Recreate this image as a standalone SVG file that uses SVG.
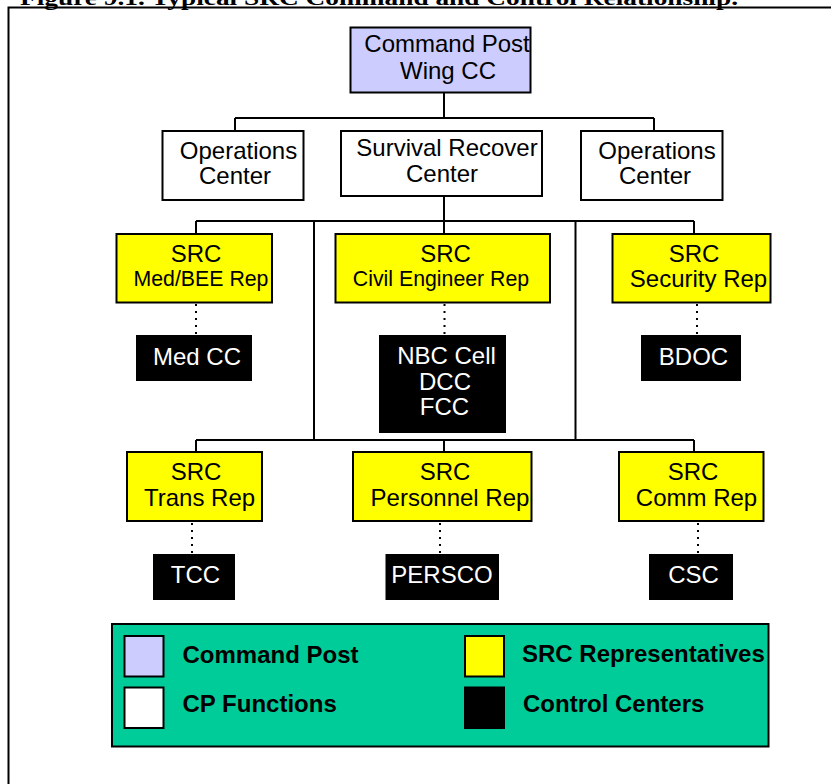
<svg xmlns="http://www.w3.org/2000/svg" width="831" height="784" viewBox="0 0 831 784">
<style>
  .t{font-family:"Liberation Sans",Arial,sans-serif;font-size:24px;fill:#000;text-anchor:middle}
  .w{fill:#fff}
  .sm{font-size:21.3px}
  .lg{font-family:"Liberation Sans",Arial,sans-serif;font-size:24px;font-weight:bold;fill:#000}
  .box{stroke:#000;stroke-width:2}
  .cp{fill:#ccccff}
  .fn{fill:#ffffff}
  .rep{fill:#ffff00}
  .cc{fill:#000000}
  .ln{stroke:#000;stroke-width:2;fill:none}
  .dot{stroke:#000;stroke-width:2;fill:none;stroke-dasharray:2 5}
</style>
<rect x="0" y="0" width="831" height="784" fill="#fff"/>
<text x="20" y="4.5" font-family="'Liberation Serif','Times New Roman',serif" font-size="21" font-weight="bold" textLength="718" lengthAdjust="spacingAndGlyphs">Figure 9.1.  Typical SRC Command and Control Relationship.</text>
<rect x="8.5" y="7.5" width="840" height="800" fill="none" stroke="#000" stroke-width="2"/>

<g id="connectors">
  <path class="ln" d="M444,92 V118 M235,118 H654 M235,118 V131 M654,118 V131"/>
  <path class="ln" d="M444,196 V221 M196,221 H694 M196,221 V234 M444,221 V234 M694,221 V234"/>
  <path class="ln" d="M314,221 V440 M575.5,221 V440 M196,440 H694 M196,440 V452 M444,440 V452 M694,440 V452"/>
  <path class="dot" d="M196,304 V336 M444.5,304 V336 M697,304 V336"/>
  <path class="dot" d="M192,523 V555 M440,523 V555 M698,523 V555"/>
</g>

<g id="command-post">
  <rect class="box cp" x="350.5" y="27.5" width="180" height="65"/>
  <text class="t" x="447" y="52">Command Post</text>
  <text class="t" x="448" y="79">Wing CC</text>
</g>

<g id="ops-left">
  <rect class="box fn" x="162.5" y="131" width="141" height="69"/>
  <text class="t" x="238.5" y="158.5">Operations</text>
  <text class="t" x="235" y="183.5">Center</text>
</g>
<g id="src-center">
  <rect class="box fn" x="341" y="131" width="201" height="65"/>
  <text class="t" x="447" y="156">Survival Recover</text>
  <text class="t" x="442" y="181.5">Center</text>
</g>
<g id="ops-right">
  <rect class="box fn" x="581" y="131" width="141.5" height="69"/>
  <text class="t" x="657" y="158.5">Operations</text>
  <text class="t" x="655" y="183.5">Center</text>
</g>

<g id="rep-med">
  <rect class="box rep" x="116.5" y="234" width="155.5" height="68.5"/>
  <text class="t" x="196" y="262">SRC</text>
  <text class="t sm" x="201" y="285.5">Med/BEE Rep</text>
</g>
<g id="rep-ce">
  <rect class="box rep" x="335.5" y="234" width="214.5" height="68.5"/>
  <text class="t" x="445.5" y="262">SRC</text>
  <text class="t sm" x="441" y="285.5">Civil Engineer Rep</text>
</g>
<g id="rep-sec">
  <rect class="box rep" x="612.5" y="234" width="158" height="68.5"/>
  <text class="t" x="694" y="262">SRC</text>
  <text class="t" x="698.5" y="286.5">Security Rep</text>
</g>

<g id="cc-med">
  <rect class="box cc" x="137" y="336" width="114" height="44"/>
  <text class="t w" x="197" y="365">Med CC</text>
</g>
<g id="cc-nbc">
  <rect class="box cc" x="380" y="336" width="125" height="96"/>
  <text class="t w" x="446.5" y="364">NBC Cell</text>
  <text class="t w" x="445" y="389.5">DCC</text>
  <text class="t w" x="444.5" y="415">FCC</text>
</g>
<g id="cc-bdoc">
  <rect class="box cc" x="642" y="336" width="98" height="44"/>
  <text class="t w" x="693.5" y="365">BDOC</text>
</g>

<g id="rep-trans">
  <rect class="box rep" x="127" y="452" width="135" height="69"/>
  <text class="t" x="196" y="480">SRC</text>
  <text class="t" x="199.5" y="506">Trans Rep</text>
</g>
<g id="rep-pers">
  <rect class="box rep" x="353" y="452" width="178.5" height="69"/>
  <text class="t" x="445" y="480">SRC</text>
  <text class="t" x="450" y="506">Personnel Rep</text>
</g>
<g id="rep-comm">
  <rect class="box rep" x="619" y="452" width="144.5" height="69"/>
  <text class="t" x="693" y="480">SRC</text>
  <text class="t" x="696.5" y="506">Comm Rep</text>
</g>

<g id="cc-tcc">
  <rect class="box cc" x="154" y="555" width="80" height="44"/>
  <text class="t w" x="195.5" y="583">TCC</text>
</g>
<g id="cc-persco">
  <rect class="box cc" x="386.5" y="555" width="111.5" height="44"/>
  <text class="t w" x="442" y="583">PERSCO</text>
</g>
<g id="cc-csc">
  <rect class="box cc" x="650" y="555" width="82" height="44"/>
  <text class="t w" x="693.5" y="583">CSC</text>
</g>

<g id="legend">
  <rect x="112" y="624" width="656.5" height="122.5" fill="#00cc99" stroke="#000" stroke-width="2"/>
  <rect class="box cp" x="124.5" y="636" width="39" height="40.5"/>
  <rect class="box fn" x="124.5" y="687.5" width="39" height="40.5"/>
  <rect class="box rep" x="465" y="636" width="39" height="40.5"/>
  <rect class="box cc" x="465" y="687.5" width="39" height="40.5"/>
  <text class="lg" x="182.5" y="663">Command Post</text>
  <text class="lg" x="182.5" y="711.5">CP Functions</text>
  <text class="lg" x="522" y="662">SRC Representatives</text>
  <text class="lg" x="523" y="711.5">Control Centers</text>
</g>
</svg>
